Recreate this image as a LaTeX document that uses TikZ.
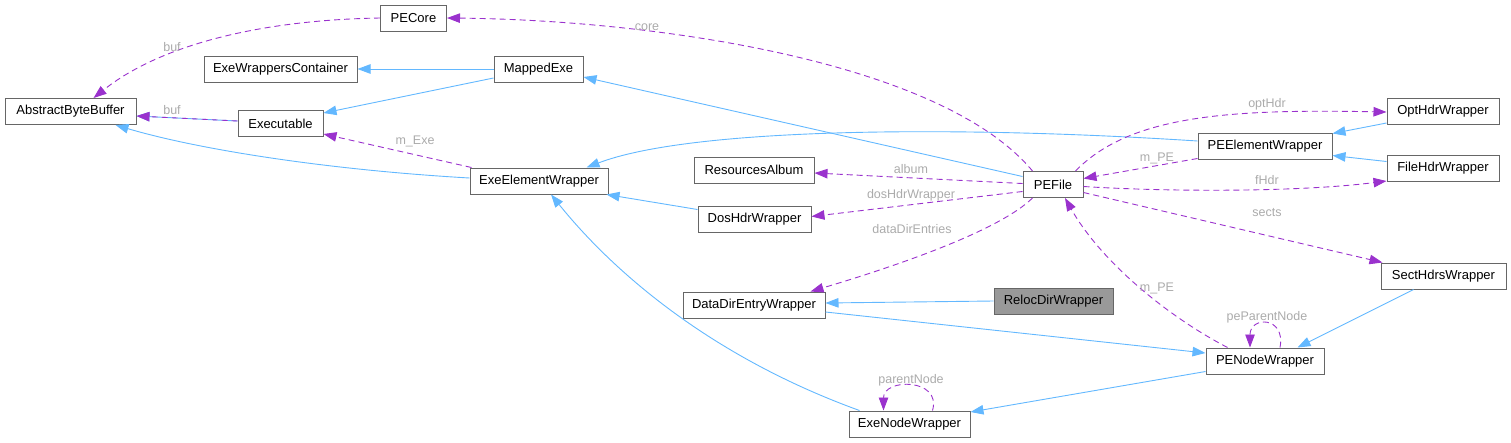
\documentclass[tikz,border=0pt]{standalone}
\usepackage{fontspec}
\setmainfont{Liberation Sans}
\usetikzlibrary{arrows.meta,calc}
\definecolor{inhblue}{HTML}{63B8FF}
\definecolor{deppurple}{HTML}{9A32CD}
\definecolor{lblgray}{HTML}{ABABAB}
\definecolor{nodegray}{HTML}{666666}
\definecolor{relocfill}{HTML}{999999}
\tikzset{
  cls/.style={draw=nodegray, line width=1pt, fill=white, minimum height=26pt, inner sep=0pt, font=\fontsize{13}{15}\selectfont},
  inh/.style={draw=inhblue, line width=0.9pt, -{Triangle[length=13pt,width=9.5pt]}},
  dep/.style={draw=deppurple, line width=0.9pt, dash pattern=on 6pt off 4pt, -{Triangle[length=13pt,width=9.5pt]}},
  lbl/.style={text=lblgray, font=\fontsize{12.5}{14}\selectfont, inner sep=1pt}
}
\begin{document}
\begin{tikzpicture}[x=1pt,y=-1pt]
\useasboundingbox (0,0) rectangle (1511,442);
% nodes
\node[cls, minimum width=131pt] (abb) at (70.5,111.5) {AbstractByteBuffer};
\node[cls, minimum width=66pt] (pecore) at (413.5,18) {PECore};
\node[cls, minimum width=153pt] (ewc) at (280.5,69) {ExeWrappersContainer};
\node[cls, minimum width=89pt] (mappedexe) at (538.5,69) {MappedExe};
\node[cls, minimum width=85pt] (exe) at (280.5,123.5) {Executable};
\node[cls, minimum width=138pt] (eew) at (539,181) {ExeElementWrapper};
\node[cls, minimum width=120pt] (ra) at (754,170) {ResourcesAlbum};
\node[cls, minimum width=113pt] (dhw) at (754.5,219.5) {DosHdrWrapper};
\node[cls, minimum width=60pt] (pefile) at (1053,184.5) {PEFile};
\node[cls, minimum width=134pt] (peew) at (1265,146) {PEElementWrapper};
\node[cls, minimum width=112pt] (ohw) at (1443,111.5) {OptHdrWrapper};
\node[cls, minimum width=112pt] (fhw) at (1443,168.5) {FileHdrWrapper};
\node[cls, minimum width=125pt] (shw) at (1443.5,276) {SectHdrsWrapper};
\node[cls, minimum width=142pt] (ddew) at (754,305) {DataDirEntryWrapper};
\node[cls, minimum width=119pt, fill=relocfill] (rdw) at (1053.5,301) {RelocDirWrapper};
\node[cls, minimum width=121pt] (enw) at (909.5,424) {ExeNodeWrapper};
\node[cls, minimum width=118pt] (pnw) at (1265,361) {PENodeWrapper};
% edges
\draw[dep] (pecore.west) .. controls (260,20) and (160,45) .. ($(abb.north)+(23,0)$)
  node[lbl] (lbuf1) at (172,47) {buf};
\draw[inh] (mappedexe.west) -- (ewc.east);
\draw[inh] ($(mappedexe.west)+(0,9)$) -- ($(exe.east)+(0,-10.5)$);
\draw[inh] ($(exe.west)+(0,-2.5)$) -- ($(abb.east)+(0,4.5)$);
\draw[dep] ($(exe.west)+(0,-2.5)$) -- ($(abb.east)+(0,4.5)$)
  node[lbl] (lbuf2) at (172,110) {buf};
\draw[inh] ($(eew.west)+(0,-3)$) .. controls (330,170) and (200,150) .. ($(abb.south)+(45,0)$);
\draw[dep] ($(eew.north west)+(2,0)$) -- ($(exe.south east)+(0,-3)$)
  node[lbl] (lmexe) at (415,141) {m\_Exe};
\draw[dep] ($(pefile.north west)+(10,0)$) .. controls (940,60) and (650,20) .. (pecore.east)
  node[lbl] (lcore) at (647,27) {core};
\draw[inh] ($(pefile.west)+(0,-8)$) -- ($(mappedexe.east)+(0,8)$);
\draw[inh] ($(peew.west)+(0,-5)$) .. controls (950,125) and (690,128) .. ($(eew.north east)+(-22,0)$);
\draw[dep] ($(pefile.west)+(0,-1)$) -- ($(ra.east)+(0,3)$)
  node[lbl] (lalbum) at (911,169) {album};
\draw[dep] ($(pefile.west)+(0,7)$) -- ($(dhw.east)+(0,-3)$)
  node[lbl] (ldos) at (911,195) {dosHdrWrapper};
\draw[inh] ($(dhw.west)+(0,-10)$) -- ($(eew.south east)+(-2,0)$);
\draw[dep] ($(pefile.south west)+(10,0)$) .. controls (1000,230) and (900,265) .. ($(ddew.north east)+(-15,0)$)
  node[lbl] (ldde) at (912,229) {dataDirEntries};
\draw[dep] ($(pefile.north east)+(-8,0)$) .. controls (1130,115) and (1230,109) .. ($(ohw.west)+(0,0.5)$)
  node[lbl] (lopt) at (1267,104) {optHdr};
\draw[dep] ($(peew.south west)+(0,-1)$) -- ($(pefile.east)+(0,-6)$)
  node[lbl] (lmpe1) at (1157,158) {m\_PE};
\draw[inh] ($(ohw.south west)+(0,-2)$) -- ($(peew.north east)+(0,1)$);
\draw[inh] ($(fhw.west)+(0,-7)$) -- ($(peew.south east)+(0,-4)$);
\draw[dep] ($(pefile.east)+(0,2)$) .. controls (1170,192) and (1300,192) .. ($(fhw.south west)+(0,-1)$)
  node[lbl] (lfhdr) at (1267,180) {fHdr};
\draw[dep] ($(pefile.east)+(0,8)$) -- ($(shw.north west)+(2,0)$)
  node[lbl] (lsects) at (1267,213) {sects};
\draw[dep] ($(pnw.north west)+(22,0)$) .. controls (1165,315) and (1100,260) .. ($(pefile.south)+(12,0)$)
  node[lbl] (lmpe2) at (1157,288) {m\_PE};
\draw[inh] (rdw.west) -- ($(ddew.east)+(0,-2)$);
\draw[inh] ($(ddew.east)+(0,7)$) -- ($(pnw.west)+(0,-8)$);
\draw[inh] ($(shw.south)+(-30,0)$) -- ($(pnw.north east)+(-27,0)$);
\draw[dep] ($(pnw.north)+(15,0)$) .. controls (1286,316) and (1250,316) .. ($(pnw.north)+(-15,0)$)
  node[lbl] (lppn) at (1267,317) {peParentNode};
\draw[inh] ($(pnw.south west)+(0,-3)$) -- ($(enw.east)+(0,-12)$);
\draw[inh] ($(enw.north west)+(11,0)$) .. controls (720,360) and (620,280) .. ($(eew.south)+(12,0)$);
\draw[dep] ($(enw.north)+(23,0)$) .. controls (942,378) and (883.5,378) .. ($(enw.north)+(-26,0)$)
  node[lbl] (lpn) at (911,380) {parentNode};
\end{tikzpicture}
\end{document}
